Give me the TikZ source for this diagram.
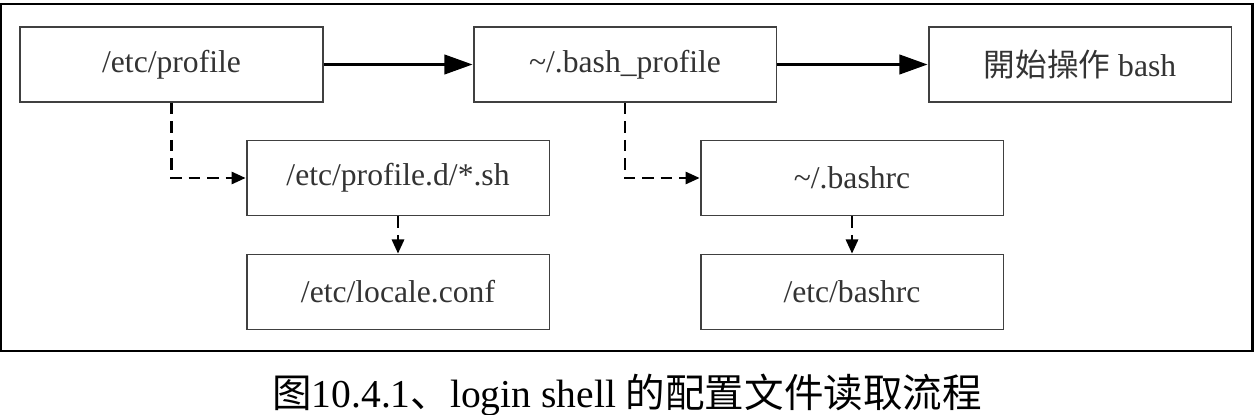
\documentclass[tikz,border=0pt]{standalone}
\usepackage{fontspec}
\setmainfont{Liberation Serif}
\newfontfamily\cjksc{Noto Sans CJK SC}
\newfontfamily\cjktc{Noto Sans CJK TC}
\usetikzlibrary{arrows.meta}

\begin{document}
\begin{tikzpicture}[x=0.02cm,y=-0.02cm]
  \useasboundingbox (0,0) rectangle (1256,415);

  % node styles
  \tikzstyle{Box}=[
  draw=black!75,
  line width=1.1pt,
  shape=rectangle,
  minimum width=6.06cm,
  minimum height=1.5cm,
  inner sep=0pt,
  text=black!80,
  font=\fontsize{18}{20}\selectfont]

  \tikzstyle{Flow}=[line width=1.7pt,-{Triangle[length=16pt,width=11pt]}]
  \tikzstyle{Load}=[line width=1.2pt,dash pattern=on 6.5pt off 4pt,
  -{Triangle[length=8pt,width=7pt]}]

  % frame
  \draw[line width=1.7pt] (1,4) rectangle (1252,351);

  \node[Box] (P) at (171.5,64.5) {/etc/profile};
  \node[Box] (B) at (625,64.5)   {\textasciitilde/.bash\_profile};
  \node[Box] (S) at (1080,64.5)  {{\cjktc 開始操作} bash};

  \node[Box] (D) at (398,178) {/etc/profile.d/*.sh};
  \node[Box] (L) at (398,292) {/etc/locale.conf};
  \node[Box] (R) at (852,178) {\textasciitilde/.bashrc};
  \node[Box] (E) at (852,292) {/etc/bashrc};

  \draw[Flow] (P.east) -- (B.west);
  \draw[Flow] (B.east) -- (S.west);

  \draw[Load] (P.south) -- (P.south |- D.west) -- (D.west);
  \draw[Load] (B.south) -- (B.south |- R.west) -- (R.west);
  \draw[Load] (D.south) -- (L.north);
  \draw[Load] (R.south) -- (E.north);

  % caption
  \node[font=\fontsize{22.5}{24}\selectfont] (C) at (627,395)
    {{\cjksc 图}10.4.1{\cjksc 、}login shell {\cjksc 的配置文件读取流程}};

\end{tikzpicture}
\end{document}
